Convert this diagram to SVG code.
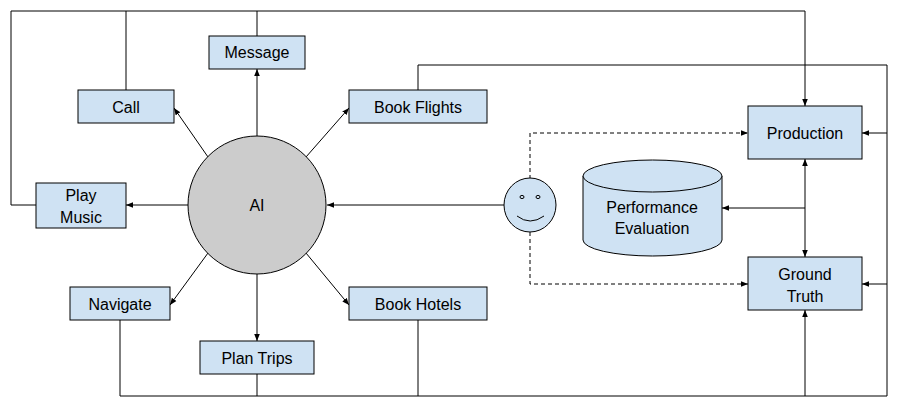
<svg xmlns="http://www.w3.org/2000/svg" width="899" height="406" viewBox="0 0 899 406">
<style>
.b{fill:#cfe2f3;stroke:#000;stroke-width:1}
.t{font-family:"Liberation Sans",Arial,sans-serif;font-size:16px;fill:#000;text-anchor:middle}
.c{fill:none;stroke:#000;stroke-width:1}
.d{fill:none;stroke:#000;stroke-width:1;stroke-dasharray:4,3}
</style>
<defs>
<marker id="a" viewBox="0 0 10 10" refX="10" refY="5" markerWidth="7" markerHeight="7" markerUnits="userSpaceOnUse" orient="auto-start-reverse"><path d="M0,1 L10,5 L0,9 z" fill="#000"/></marker>
</defs>
<rect width="899" height="406" fill="#fff"/>
<g id="connectors">
<path class="c" d="M11,11 H805 V106" marker-end="url(#a)"/>
<path class="c" d="M126,90 V11"/>
<path class="c" d="M257,36 V11"/>
<path class="c" d="M36,205 H11 V11"/>
<path class="c" d="M418,90 V65 H887 V396 H120 V320"/>
<path class="c" d="M257,374 V396"/>
<path class="c" d="M418,320 V396"/>
<path class="c" d="M887,133 H862" marker-end="url(#a)"/>
<path class="c" d="M887,284 H862" marker-end="url(#a)"/>
<path class="c" d="M805,396 V310" marker-end="url(#a)"/>
<path class="c" d="M805,159 V257" marker-start="url(#a)" marker-end="url(#a)"/>
<path class="c" d="M805,208 H722" marker-end="url(#a)"/>
<path class="c" d="M504,205 H327" marker-end="url(#a)"/>
<path class="d" d="M530,179 V133 H748" marker-end="url(#a)"/>
<path class="d" d="M530,232 V284 H748" marker-end="url(#a)"/>
<path class="c" d="M257,136 V69" marker-end="url(#a)"/>
<path class="c" d="M257,274 V341" marker-end="url(#a)"/>
<path class="c" d="M188,205 H126" marker-end="url(#a)"/>
<path class="c" d="M208,157 L174,108" marker-end="url(#a)"/>
<path class="c" d="M306,157 L349,108" marker-end="url(#a)"/>
<path class="c" d="M208,253 L170,305" marker-end="url(#a)"/>
<path class="c" d="M306,253 L349,305" marker-end="url(#a)"/>
</g>
<g id="ai"><circle cx="257" cy="205" r="69" fill="#cccccc" stroke="#000"/><text class="t" x="257" y="211">AI</text></g>
<g id="message"><rect class="b" x="209" y="36" width="96" height="33"/><text class="t" x="257" y="58">Message</text></g>
<g id="call"><rect class="b" x="78" y="90" width="96" height="33"/><text class="t" x="126" y="113">Call</text></g>
<g id="flights"><rect class="b" x="349" y="90" width="138" height="33"/><text class="t" x="418" y="113">Book Flights</text></g>
<g id="music"><rect class="b" x="36" y="183" width="90" height="45"/><text class="t" x="81" y="201">Play</text><text class="t" x="81" y="223">Music</text></g>
<g id="navigate"><rect class="b" x="70" y="287" width="100" height="33"/><text class="t" x="120" y="310">Navigate</text></g>
<g id="plantrips"><rect class="b" x="200" y="341" width="114" height="33"/><text class="t" x="257" y="364">Plan Trips</text></g>
<g id="hotels"><rect class="b" x="349" y="287" width="138" height="33"/><text class="t" x="418" y="310">Book Hotels</text></g>
<g id="user"><ellipse class="b" cx="530" cy="205" rx="26" ry="27"/><ellipse cx="522" cy="197" rx="2" ry="1.6" fill="none" stroke="#000"/><ellipse cx="538" cy="197" rx="2" ry="1.6" fill="none" stroke="#000"/><path class="c" d="M517,216 Q530,226 544,216"/></g>
<g id="perf"><path class="b" d="M583,176 V240 A69.5,16 0 0 0 722,240 V176"/><ellipse class="b" cx="652.5" cy="176" rx="69.5" ry="16"/><text class="t" x="652" y="213">Performance</text><text class="t" x="652" y="234">Evaluation</text></g>
<g id="production"><rect class="b" x="748" y="106" width="114" height="53"/><text class="t" x="805" y="139">Production</text></g>
<g id="truth"><rect class="b" x="748" y="257" width="114" height="53"/><text class="t" x="805" y="280">Ground</text><text class="t" x="805" y="302">Truth</text></g>
</svg>
